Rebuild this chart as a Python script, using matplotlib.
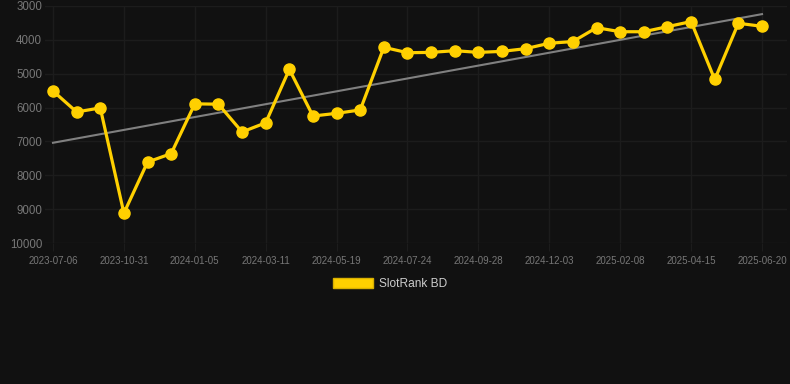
import matplotlib
matplotlib.use("Agg")
import matplotlib.pyplot as plt
import numpy as np

plt.rcParams['font.family'] = ['Liberation Sans', 'DejaVu Sans']

# tick labels shown every third point
tick_labels = ["2023-07-06", "2023-10-31", "2024-01-05", "2024-03-11", "2024-05-19",
               "2024-07-24", "2024-09-28", "2024-12-03", "2025-02-08", "2025-04-15", "2025-06-20"]
ranks = [5510, 6130, 6010, 9120, 7610, 7360, 5890, 5900, 6720, 6450,
         4870, 6250, 6170, 6070, 4220, 4380, 4370, 4320, 4370, 4340,
         4260, 4100, 4050, 3640, 3760, 3760, 3610, 3460, 5170, 3510, 3600]
trend_start = 7040
trend_end = 3240
series_name = "SlotRank BD"

bg = "#111111"
fig = plt.figure(figsize=(7.9, 3.84), dpi=100, facecolor=bg)
ax = fig.add_axes([45/790, (384-243)/384, (787-45)/790, (243-6)/384], facecolor=bg)

x = np.arange(len(ranks))
ax.plot([x[0], x[-1]], [trend_start, trend_end], color="#808080", lw=1.5, zorder=2)
ax.plot(x, ranks, color="#FFD000", lw=2.3, marker="o", ms=8, zorder=3,
        label=series_name)

step = 23.63
ax.set_xlim(-8/step, 30 + 25/step)
ax.set_ylim(10000, 3000)
ax.set_yticks(np.arange(3000, 10001, 1000))
tick_pos = np.arange(0, len(ranks), 3)
ax.set_xticks(tick_pos)
ax.set_xticklabels(tick_labels)

ax.grid(True, color="#1c1c1c", lw=1)
for s in ax.spines.values():
    s.set_visible(False)
ax.tick_params(axis="y", length=0, pad=2, labelsize=8.3, labelcolor="#777777")
ax.tick_params(axis="x", length=6, color="#1c1c1c", pad=3, labelsize=7, labelcolor="#777777")

leg = fig.legend(handles=[plt.Rectangle((0, 0), 1, 1, facecolor="#FFD000", edgecolor="#d9b000")],
                 labels=[series_name], loc="center", bbox_to_anchor=(390/790, 1-284/384),
                 frameon=False, fontsize=8.6, handlelength=3.4, handleheight=1.0,
                 handletextpad=0.5)
for t in leg.get_texts():
    t.set_color("#cccccc")

fig.savefig("out.png", dpi=100, facecolor=bg)
